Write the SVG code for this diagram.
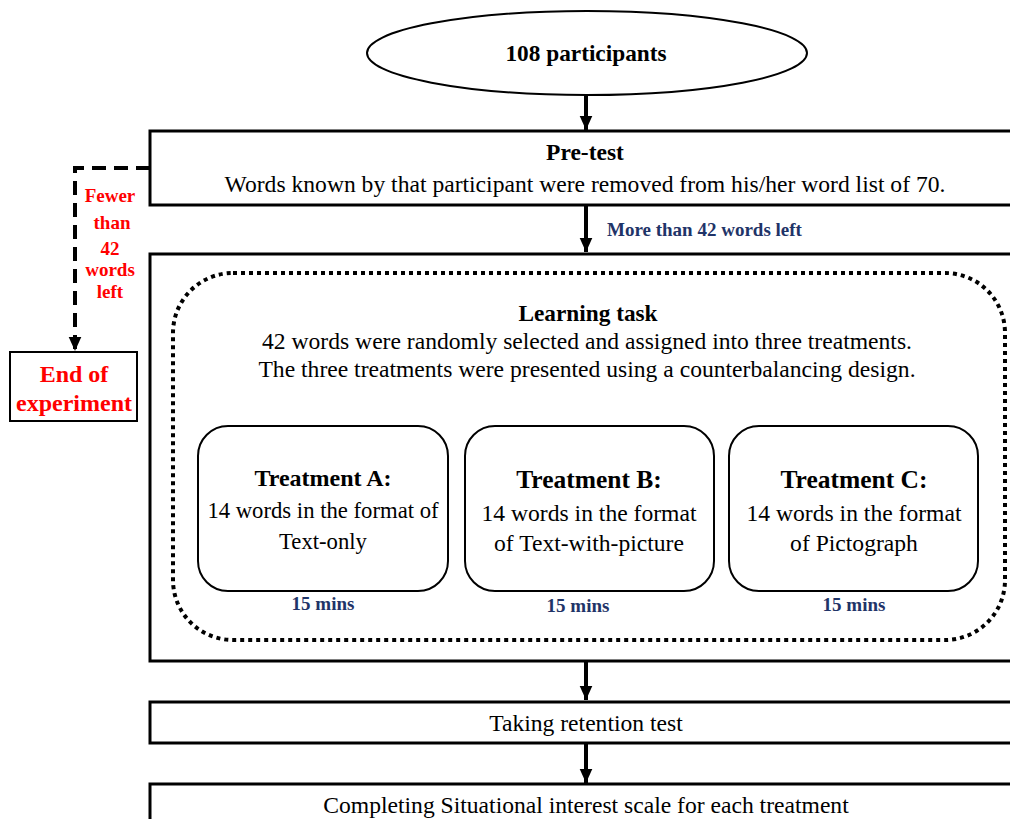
<svg xmlns="http://www.w3.org/2000/svg" width="1010" height="819" viewBox="0 0 1010 819">
<style>
text{font-family:'Liberation Serif','Times New Roman',serif}
.t{fill:#000;text-anchor:middle}
.b{font-weight:bold}
.box{fill:#fff;stroke:#000;stroke-width:3}
.tb{fill:#fff;stroke:#000;stroke-width:2}
.blue{font-weight:bold;fill:#1f3468;font-size:19px}
.red{font-weight:bold;fill:#ff0000;text-anchor:middle}
.conn{stroke:#000;stroke-width:4;fill:none}
</style>
<defs>
<marker id="ahb" viewBox="0 0 10 10" refX="10" refY="5" markerWidth="14" markerHeight="14" orient="auto" markerUnits="userSpaceOnUse">
<path d="M0,0.5 L10,5 L0,9.5 Z" fill="#000"/>
</marker>
</defs>
<rect width="1010" height="819" fill="#fff"/>

<g id="connectors">
<line class="conn" x1="586" y1="96" x2="586" y2="130" marker-end="url(#ahb)"/>
<line class="conn" x1="586" y1="206" x2="586" y2="252" marker-end="url(#ahb)"/>
<line class="conn" x1="586" y1="662" x2="586" y2="700" marker-end="url(#ahb)"/>
<line class="conn" x1="586" y1="744" x2="586" y2="783" marker-end="url(#ahb)"/>
<path class="conn" d="M150,168 H75 V351" stroke-dasharray="14,8" marker-end="url(#ahb)"/>
<text class="blue" x="607" y="236" font-size="19">More than 42 words left</text>
<g class="red" font-size="19">
<text x="110" y="202">Fewer</text>
<text x="112" y="229">than</text>
<text x="110" y="255">42</text>
<text x="110" y="276">words</text>
<text x="110" y="298">left</text>
</g>
</g>

<g id="participants">
<ellipse cx="587" cy="53" rx="220" ry="42" fill="#fff" stroke="#000" stroke-width="2"/>
<text class="t b" x="586" y="61" font-size="23.3">108 participants</text>
</g>

<g id="pretest">
<rect class="box" x="150" y="131" width="880" height="74"/>
<text class="t b" x="585" y="160" font-size="23.5">Pre-test</text>
<text class="t" x="585" y="192" font-size="23.6">Words known by that participant were removed from his/her word list of 70.</text>
</g>

<g id="end">
<rect class="tb" x="10" y="352" width="127" height="69"/>
<text class="red" x="74" y="382" font-size="24">End of</text>
<text class="red" x="74" y="411" font-size="24">experiment</text>
</g>

<g id="learning">
<rect class="box" x="150" y="254" width="880" height="407"/>
<rect x="173" y="273" width="832" height="367" rx="60" ry="60" fill="none" stroke="#000" stroke-width="4" stroke-dasharray="4,4"/>
<text class="t b" x="588" y="321" font-size="23.3">Learning task</text>
<text class="t" x="587" y="349" font-size="23.6">42 words were randomly selected and assigned into three treatments.</text>
<text class="t" x="587" y="377" font-size="23.6">The three treatments were presented using a counterbalancing design.</text>
</g>

<g id="treatmentA">
<rect class="tb" x="198" y="426" width="250" height="165" rx="30" ry="30"/>
<text class="t b" x="323" y="486" font-size="24">Treatment A:</text>
<text class="t" x="323" y="518" font-size="22.7">14 words in the format of</text>
<text class="t" x="323" y="549" font-size="22.7">Text-only</text>
<text class="blue" x="323" y="610" text-anchor="middle">15 mins</text>
</g>

<g id="treatmentB">
<rect class="tb" x="465" y="426" width="249" height="165" rx="30" ry="30"/>
<text class="t b" x="589" y="488" font-size="25.5">Treatment B:</text>
<text class="t" x="589" y="521" font-size="23.6">14 words in the format</text>
<text class="t" x="589" y="551" font-size="23.6">of Text-with-picture</text>
<text class="blue" x="578" y="612" text-anchor="middle">15 mins</text>
</g>

<g id="treatmentC">
<rect class="tb" x="729" y="426" width="249" height="165" rx="30" ry="30"/>
<text class="t b" x="854" y="488" font-size="25.5">Treatment C:</text>
<text class="t" x="854" y="521" font-size="23.6">14 words in the format</text>
<text class="t" x="854" y="551" font-size="23.6">of Pictograph</text>
<text class="blue" x="854" y="611" text-anchor="middle">15 mins</text>
</g>

<g id="retention">
<rect class="box" x="150" y="702" width="880" height="41"/>
<text class="t" x="586" y="731" font-size="23.6">Taking retention test</text>
</g>

<g id="interest">
<rect class="box" x="150" y="784" width="880" height="60"/>
<text class="t" x="586" y="813" font-size="23.6">Completing Situational interest scale for each treatment</text>
</g>
</svg>
